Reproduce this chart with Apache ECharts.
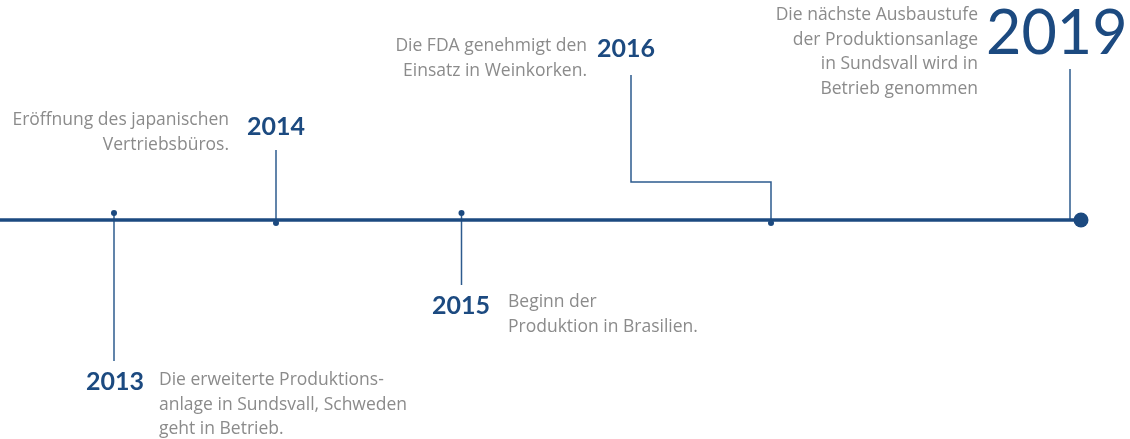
<!DOCTYPE html>
<html>
<head>
<meta charset="utf-8">
<script src="https://cdn.jsdelivr.net/npm/echarts@6/dist/echarts.min.js"></script>
<style>html,body{margin:0;padding:0;background:#fff}#c{width:1130px;height:439px}</style>
</head>
<body>
<div id="c"></div>
<script>
// ---- data ----
const years = ['2013', '2014', '2015', '2016', '2019'];
const descriptions = [
  'Die erweiterte Produktions-\nanlage in Sundsvall, Schweden\ngeht in Betrieb.',
  'Eröffnung des japanischen\nVertriebsbüros.',
  'Beginn der\nProduktion in Brasilien.',
  'Die FDA genehmigt den\nEinsatz in Weinkorken.',
  'Die nächste Ausbaustufe\nder Produktionsanlage\nin Sundsvall wird in\nBetrieb genommen'
];
// position of each event along the timeline axis
const eventX = [114, 276, 461.5, 771, 1081];
// ---- layout (positions in axis units) ----
const timelineY = 220;
const timelineStart = 0;
const dotY = [213, 223, 213, 223, 220];
const stemPaths = [
  [[114, 213], [114, 361]],
  [[276, 150], [276, 223]],
  [[461.5, 213], [461.5, 285]],
  [[631, 75], [631, 182], [771, 182], [771, 223]],
  [[1070, 69], [1070, 220]]
];
const yearLabelAnchor = [[86, 382], [247, 127], [432, 306], [597, 49], [986, 34]];
const descAnchor = [[159, 368], [229, 108], [508, 290], [587, 34], [978, 3]];
const descAlign = ['left', 'right', 'left', 'right', 'right'];

const BLUE = '#1c4a80';
const GREY = '#8b8b8b';

const chart = echarts.init(document.getElementById('c'));
chart.setOption({
  animation: false,
  grid: { left: 0, right: 0, top: 0, bottom: 0 },
  xAxis: { type: 'value', min: 0, max: 1130, show: false },
  yAxis: { type: 'value', min: 0, max: 439, inverse: true, show: false },
  series: [
    {
      type: 'line',
      data: [[timelineStart, timelineY], [eventX[eventX.length - 1], timelineY]],
      symbol: 'none',
      lineStyle: { color: BLUE, width: 3.5 },
      z: 2
    },
    {
      type: 'lines',
      coordinateSystem: 'cartesian2d',
      polyline: true,
      data: stemPaths.map(p => ({ coords: p })),
      lineStyle: { color: '#2d5b8e', width: 1.5, opacity: 1 },
      z: 1
    },
    {
      type: 'scatter',
      data: eventX.map((x, i) => ({
        value: [x, dotY[i]],
        symbolSize: i === eventX.length - 1 ? 15 : 6
      })),
      itemStyle: { color: BLUE, opacity: 1 },
      z: 3
    },
    {
      type: 'scatter',
      symbolSize: 0,
      itemStyle: { opacity: 1 },
      data: years.map((y, i) => ({
        value: yearLabelAnchor[i],
        name: y,
        label: {
          fontSize: i === years.length - 1 ? 61 : 25,
          fontWeight: i === years.length - 1 ? 'normal' : 'bold'
        }
      })),
      label: {
        show: true,
        position: [0, 0],
        align: 'left',
        verticalAlign: 'middle',
        formatter: p => p.name,
        color: BLUE,
        opacity: 1,
        fontFamily: 'Lato'
      },
      z: 4
    },
    {
      type: 'scatter',
      symbolSize: 0,
      itemStyle: { opacity: 1 },
      data: descriptions.map((d, i) => ({
        value: descAnchor[i],
        name: d,
        label: { align: descAlign[i] }
      })),
      label: {
        show: true,
        position: [0, 0],
        verticalAlign: 'top',
        formatter: p => p.name,
        color: GREY,
        opacity: 1,
        fontFamily: 'Open Sans',
        fontSize: 17.5,
        lineHeight: 24.5
      },
      z: 4
    }
  ]
});
</script>
</body>
</html>
